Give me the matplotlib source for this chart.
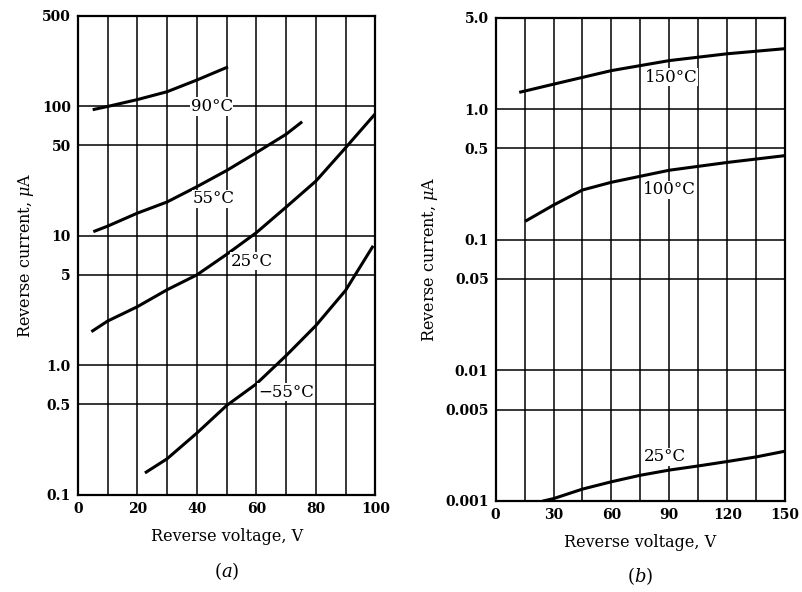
import numpy as np
import matplotlib
matplotlib.use("Agg")
import matplotlib.pyplot as plt

plt.rcParams['font.family'] = ['DejaVu Serif']
plt.rcParams['mathtext.fontset'] = 'dejavuserif'

# (a) reverse current vs voltage, uA
a_90_v = [5.5, 10, 20, 30, 40, 50]
a_90_i = [95, 100, 113, 130, 160, 200]
a_55_v = [5.7, 10, 20, 30, 40, 50, 60, 70, 75]
a_55_i = [10.9, 11.9, 15, 18.3, 24, 32, 44, 61, 75]
a_25_v = [5, 10, 20, 30, 40, 50, 60, 70, 80, 90, 100]
a_25_i = [1.85, 2.2, 2.84, 3.84, 5.0, 7.2, 10.6, 16.7, 26.5, 48, 88]
a_m55_v = [23, 30, 40, 50, 60, 70, 80, 90, 99]
a_m55_i = [0.15, 0.19, 0.3, 0.49, 0.72, 1.19, 2.03, 3.8, 8.2]

# (b)
b_150_v = [13, 30, 60, 90, 120, 150]
b_150_i = [1.35, 1.55, 1.97, 2.35, 2.65, 2.9]
b_100_v = [16, 30, 45, 60, 90, 120, 150]
b_100_i = [0.14, 0.184, 0.24, 0.275, 0.34, 0.39, 0.44]
b_25_v = [25, 30, 45, 60, 75, 90, 105, 120, 135, 150]
b_25_i = [0.001, 0.00104, 0.00123, 0.0014, 0.00157, 0.00172, 0.00185, 0.002, 0.00217, 0.0024]

a_yticks = [0.1, 0.5, 1.0, 5, 10, 50, 100, 500]
a_ylabels = ['0.1', '0.5', '1.0', '5', '10', '50', '100', '500']
b_yticks = [0.001, 0.005, 0.01, 0.05, 0.1, 0.5, 1.0, 5.0]
b_ylabels = ['0.001', '0.005', '0.01', '0.05', '0.1', '0.5', '1.0', '5.0']

fig = plt.figure(figsize=(8.02, 5.92), dpi=100)
ax1 = fig.add_axes([0.097, 0.164, 0.371, 0.809])
ax2 = fig.add_axes([0.618, 0.154, 0.361, 0.816])

lw = 2.2
box = dict(facecolor='white', edgecolor='none', pad=0.5)


def style(ax, xticks, xgrid, yticks, ylabels):
    ax.set_yscale('log')
    ax.set_yticks(yticks)
    ax.set_yticklabels(ylabels)
    ax.yaxis.set_minor_locator(matplotlib.ticker.NullLocator())
    ax.set_xticks(xticks)
    ax.set_xticks(xgrid, minor=True)
    ax.tick_params(which='both', length=0, labelsize=10, pad=5)
    ax.grid(True, which='major', axis='y', color='black', lw=1.1)
    ax.grid(True, which='both', axis='x', color='black', lw=1.1)
    for s in ax.spines.values():
        s.set_linewidth(1.6)
    for t in ax.get_xticklabels() + ax.get_yticklabels():
        t.set_fontweight('bold')
    ax.set_ylabel(r'Reverse current, $\mu$A', fontsize=11.5, labelpad=4)
    ax.set_xlabel('Reverse voltage, V', fontsize=11.5, labelpad=9)


ax1.plot(a_90_v, a_90_i, color='black', lw=lw)
ax1.plot(a_55_v, a_55_i, color='black', lw=lw)
ax1.plot(a_25_v, a_25_i, color='black', lw=lw)
ax1.plot(a_m55_v, a_m55_i, color='black', lw=lw)
ax1.set_xlim(0, 100)
ax1.set_ylim(0.1, 500)
style(ax1, [0, 20, 40, 60, 80, 100], range(0, 101, 10), a_yticks, a_ylabels)
ax1.text(45, 100, '90°C', fontsize=12, ha='center', va='center', bbox=box)
ax1.text(45.5, 19.3, '55°C', fontsize=12, ha='center', va='center', bbox=box)
ax1.text(58.5, 6.4, '25°C', fontsize=12, ha='center', va='center', bbox=box)
ax1.text(70, 0.62, '\u221255°C', fontsize=12, ha='center', va='center', bbox=box)
ax1.text(0.5, -0.16, r'$(a)$', transform=ax1.transAxes, fontsize=13,
         ha='center', va='center')

ax2.plot(b_150_v, b_150_i, color='black', lw=lw)
ax2.plot(b_100_v, b_100_i, color='black', lw=lw)
ax2.plot(b_25_v, b_25_i, color='black', lw=lw)
ax2.set_xlim(0, 150)
ax2.set_ylim(0.001, 5.0)
style(ax2, [0, 30, 60, 90, 120, 150], range(0, 151, 15), b_yticks, b_ylabels)
ax2.text(91, 1.75, '150°C', fontsize=12, ha='center', va='center', bbox=box)
ax2.text(90, 0.24, '100°C', fontsize=12, ha='center', va='center', bbox=box)
ax2.text(87.5, 0.00217, '25°C', fontsize=12, ha='center', va='center', bbox=box)
ax2.text(0.5, -0.155, r'$(b)$', transform=ax2.transAxes, fontsize=13,
         ha='center', va='center')

fig.savefig('out.png', dpi=100)
